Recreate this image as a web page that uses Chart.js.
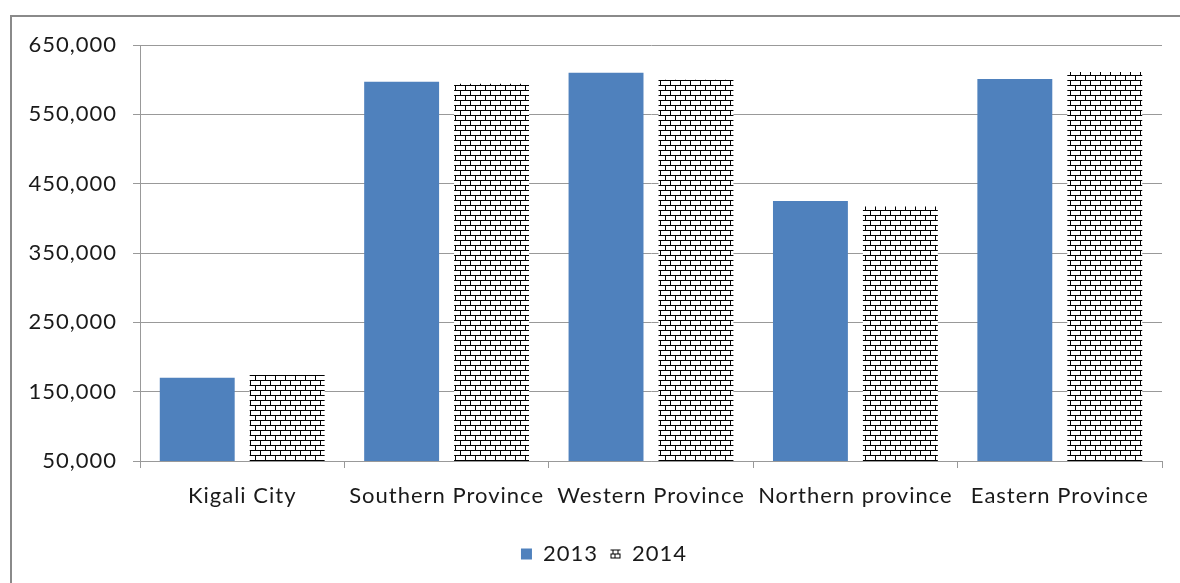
<!DOCTYPE html>
<html>
<head>
<meta charset="utf-8">
<script src="https://cdn.jsdelivr.net/npm/chart.js@4"></script>
<style>
html,body{margin:0;padding:0;background:#fff;}
#wrap{width:1180px;height:583px;position:relative;}
</style>
</head>
<body>
<div id="wrap"><canvas id="c" width="1180" height="583"></canvas></div>
<script>
const categories = ['Kigali City', 'Southern Province', 'Western Province', 'Northern province', 'Eastern Province'];
const seriesNames = ['2013', '2014'];
const values2013 = [170000, 597000, 610000, 425000, 601000];
const values2014 = [174000, 594000, 600000, 417000, 611000];
const yTicks = [50000, 150000, 250000, 350000, 450000, 550000, 650000];

function brickPattern() {
  const t = document.createElement('canvas');
  t.width = 10; t.height = 10;
  const g = t.getContext('2d');
  g.fillStyle = '#fff'; g.fillRect(0, 0, 10, 10);
  g.fillStyle = '#000';
  g.fillRect(0, 0, 10, 1);
  g.fillRect(0, 5, 10, 1);
  g.fillRect(0, 0, 1, 5);
  g.fillRect(5, 5, 1, 5);
  return document.getElementById('c').getContext('2d').createPattern(t, 'repeat');
}

function brickSwatch() {
  const t = document.createElement('canvas');
  t.width = 12; t.height = 11;
  const g = t.getContext('2d');
  g.fillStyle = '#fff'; g.fillRect(0, 0, 12, 11);
  g.fillStyle = '#000';
  g.fillRect(1, 1, 10, 1);
  g.fillRect(1, 5, 10, 1);
  g.fillRect(1, 9, 10, 1);
  g.fillRect(3, 1, 1, 4);
  g.fillRect(8, 1, 1, 4);
  g.fillRect(5, 5, 1, 5);
  g.fillRect(1, 5, 1, 5);
  g.fillRect(10, 5, 1, 5);
  return t;
}

const SPACING = '1px';
const spacing = {
  id: 'spacing',
  beforeUpdate(chart) { chart.ctx.letterSpacing = SPACING; },
  beforeLayout(chart) { chart.ctx.letterSpacing = SPACING; },
  afterLayout(chart) {
    if (chart.legend) { chart.legend.left += 18; chart.legend.right += 18; }
  },
  beforeDraw(chart) { chart.ctx.letterSpacing = SPACING; }
};

const frame = {
  id: 'frame',
  beforeDraw(chart) {
    const ctx = chart.ctx;
    ctx.save();
    ctx.strokeStyle = '#8a8a8a';
    ctx.lineWidth = 2;
    ctx.strokeRect(11, 16, 1200, 600);
    ctx.restore();
  }
};

const FONT = 'Lato, "Open Sans", sans-serif';
const TEXT = '#1a1a1a';
const swatch = brickSwatch();

new Chart(document.getElementById('c'), {
  type: 'bar',
  data: {
    labels: categories,
    datasets: [
      { label: seriesNames[0], data: values2013, backgroundColor: '#4F81BD', borderWidth: 0 },
      { label: seriesNames[1], data: values2014, backgroundColor: brickPattern(), borderWidth: 0 }
    ]
  },
  options: {
    responsive: false,
    animation: false,
    categoryPercentage: 0.88,
    barPercentage: 0.833,
    layout: { padding: { left: 10, right: 18, top: 45, bottom: 8 } },
    plugins: {
      legend: {
        position: 'bottom',
        labels: {
          usePointStyle: true,
          boxWidth: 11, boxHeight: 11, padding: 12,
          color: TEXT,
          font: { family: FONT, size: 22 },
          generateLabels(chart) {
            const items = Chart.defaults.plugins.legend.labels.generateLabels(chart);
            items.forEach((it, i) => {
              it.pointStyle = i === 0 ? 'rect' : swatch;
              it.lineWidth = 0;
              it.strokeStyle = 'rgba(0,0,0,0)';
            });
            return items;
          }
        }
      },
      tooltip: { enabled: false }
    },
    scales: {
      x: {
        offset: true,
        grid: { offset: true, drawOnChartArea: false, drawTicks: true, tickLength: 7, color: '#999' },
        border: { color: '#999' },
        ticks: { color: TEXT, font: { family: FONT, size: 22 }, padding: 15, maxRotation: 0, autoSkip: false },
        afterFit(s) { s.height = 70; }
      },
      y: {
        min: 50000, max: 650000,
        afterBuildTicks(s) { s.ticks = yTicks.map(v => ({ value: v })); },
        grid: { color: '#999', tickLength: 7 },
        border: { color: '#999' },
        ticks: {
          color: TEXT, font: { family: FONT, size: 22 }, padding: 16,
          callback: v => v.toLocaleString('en-US')
        },
        afterFit(s) { s.width = 130; }
      }
    }
  },
  plugins: [spacing, frame]
});
</script>
</body>
</html>
